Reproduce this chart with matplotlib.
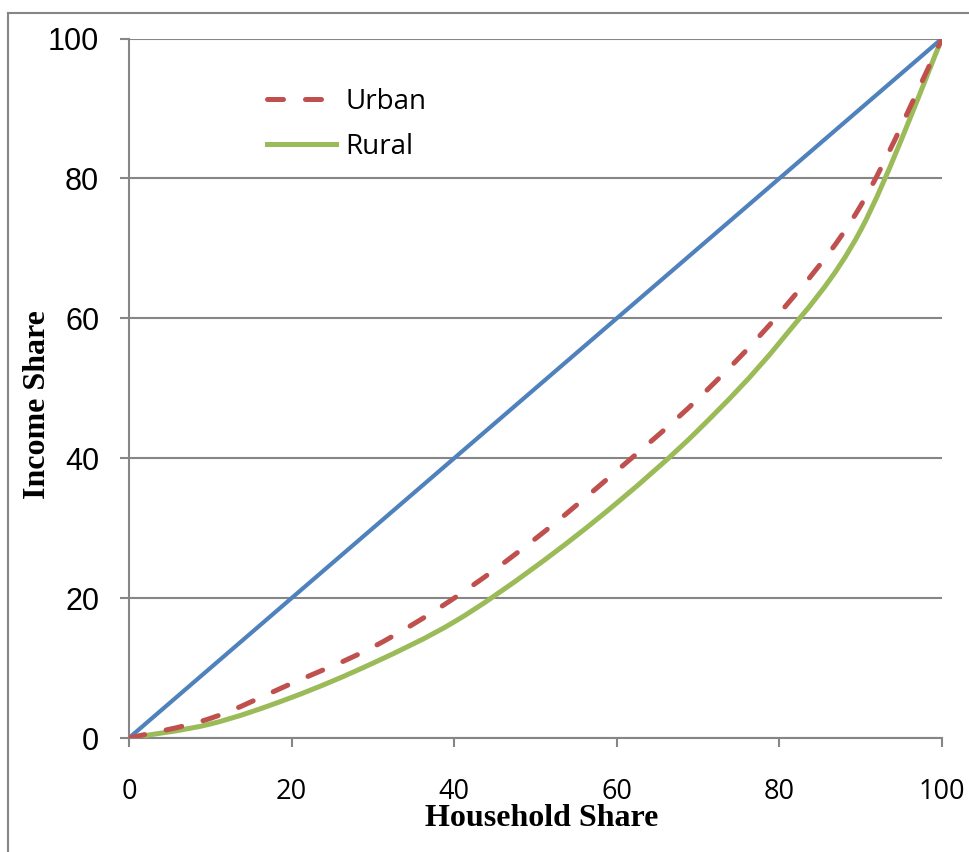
import matplotlib
matplotlib.use("Agg")
import matplotlib.pyplot as plt
from matplotlib.lines import Line2D
from matplotlib.path import Path
from matplotlib.patches import PathPatch
import numpy as np

# Data
household = [0, 10, 20, 30, 40, 50, 60, 70, 80, 90, 100]
urban = [0, 2.8, 7.8, 13.0, 20.0, 28.5, 38.2, 48.5, 60.7, 76.1, 100]
rural = [0, 2.0, 5.8, 10.7, 16.6, 24.5, 33.6, 44.0, 56.5, 72.6, 100]
equality_x = [0, 100]
equality_y = [0, 100]
xticks = [0, 20, 40, 60, 80, 100]
yticks = [0, 20, 40, 60, 80, 100]
series_labels = ["Urban", "Rural"]


def smooth_path(xs, ys):
    """Excel-style smoothed line: cubic Bezier through the data points."""
    p = np.column_stack([xs, ys]).astype(float)
    n = len(p)
    verts = [p[0]]
    codes = [Path.MOVETO]
    for i in range(n - 1):
        p0 = p[i - 1] if i > 0 else p[i]
        p1 = p[i]
        p2 = p[i + 1]
        p3 = p[i + 2] if i + 2 < n else p[i + 1]
        c1 = p1 + (p2 - p0) / 6.0
        c2 = p2 - (p3 - p1) / 6.0
        verts += [c1, c2, p2]
        codes += [Path.CURVE4] * 3
    return Path(verts, codes)


W, H = 970, 852
fig = plt.figure(figsize=(W / 100, H / 100), dpi=100)
ax = fig.add_axes([129 / W, 1 - 738 / H, (942 - 129) / W, (738 - 38.5) / H])

blue = "#4F81BD"
red = "#C0504D"
green = "#9BBB59"
grey = "#868686"
lw = 3.6
dash = (3.2, 4.4)

ax.plot(equality_x, equality_y, color=blue, lw=3, solid_capstyle="round", zorder=3)

rural_patch = PathPatch(smooth_path(household, rural), fill=False, edgecolor=green,
                        lw=lw, capstyle="round", joinstyle="round", zorder=3)
ax.add_patch(rural_patch)
urban_patch = PathPatch(smooth_path(household, urban), fill=False, edgecolor=red,
                        lw=lw, linestyle=(0, dash), capstyle="round",
                        joinstyle="round", zorder=4)
ax.add_patch(urban_patch)

ax.set_xlim(0, 100)
ax.set_ylim(0, 100)
ax.set_xticks(xticks)
ax.set_yticks(yticks)
ax.grid(axis="y", color=grey, lw=1.5)
ax.set_axisbelow(True)
for s in ["top", "right"]:
    ax.spines[s].set_visible(False)
for s in ["left", "bottom"]:
    ax.spines[s].set_color(grey)
    ax.spines[s].set_linewidth(1.5)
ax.tick_params(axis="both", direction="out", length=6.5, width=1.5, color=grey)
ax.tick_params(axis="y", pad=15)
ax.tick_params(axis="x", pad=22)
for lab in ax.get_yticklabels():
    lab.set_fontfamily("Liberation Sans")
    lab.set_fontsize(22)
for lab in ax.get_xticklabels():
    lab.set_fontfamily("Open Sans")
    lab.set_fontsize(19.5)

fig.text(542 / W, 1 - 818 / H, "Household Share", ha="center", va="center",
         fontfamily="Liberation Serif", fontweight="bold", fontsize=23)
fig.text(38 / W, 1 - 405 / H, "Income Share", ha="center", va="center",
         rotation=90, fontfamily="Liberation Serif", fontweight="bold", fontsize=23)

# Legend
handles = [Line2D([], [], color=red, lw=lw, dashes=dash, dash_capstyle="round"),
           Line2D([], [], color=green, lw=lw)]
leg = ax.legend(handles, series_labels, loc="upper left",
                bbox_to_anchor=((267 - 129) / (942 - 129), 1 - (88 - 38.5) / (738 - 38.5)),
                frameon=False, prop={"family": "Open Sans", "size": 20},
                handlelength=2.5, handletextpad=0.32, labelspacing=0.6,
                borderaxespad=0, borderpad=0)

# figure border
fig.add_artist(Line2D([8 / W, 8 / W], [0, 1 - 13 / H], color=grey, lw=1.5,
                      transform=fig.transFigure))
fig.add_artist(Line2D([8 / W, 1], [1 - 13 / H, 1 - 13 / H], color=grey, lw=1.5,
                      transform=fig.transFigure))

fig.savefig("out.png", dpi=100)
